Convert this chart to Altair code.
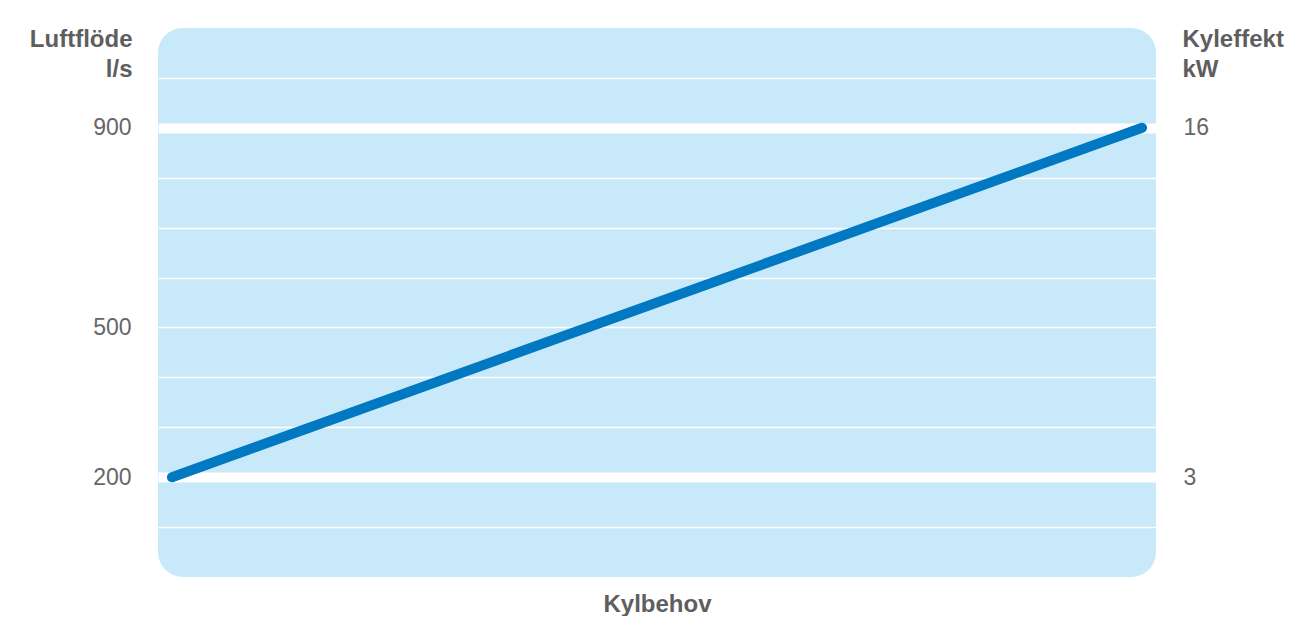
import altair as alt
import pandas as pd

# Data
kylbehov = [1.4, 98.6]          # relative position along the "Kylbehov" axis (0-100)
luftflode = [200, 900]          # l/s
kyleffekt = [3, 16]             # kW
left_labels = [200, 500, 900]
right_labels = [3, 16]
grid_values = [100, 200, 300, 400, 500, 600, 700, 800, 900, 1000]
thick_grid = [200, 900]

df = pd.DataFrame({"kylbehov": kylbehov, "luftflode": luftflode, "kyleffekt": kyleffekt})

y_dom = [0, 1100]
slope = (kyleffekt[1] - kyleffekt[0]) / (luftflode[1] - luftflode[0])
kw_dom = [kyleffekt[0] + (y_dom[0] - luftflode[0]) * slope,
          kyleffekt[0] + (y_dom[1] - luftflode[0]) * slope]

GRAY = "#666666"
TGRAY = "#5e5e5e"
FONT = "Liberation Sans"
LFS = 23
TFS = 24

label_test = " || ".join(f"datum.value == {v}" for v in left_labels)
thick_test = " || ".join(f"datum.value == {v}" for v in thick_grid)

base = alt.Chart(df).encode(
    x=alt.X(
        "kylbehov:Q",
        scale=alt.Scale(domain=[0, 100], nice=False, zero=False),
        axis=alt.Axis(
            title="Kylbehov", labels=False, ticks=False, domain=False, grid=False,
            titleFontSize=TFS, titleFontWeight="bold", titleColor=TGRAY,
            titleY=34, titleBaseline="alphabetic",
        ),
    )
)

line = base.mark_line(color="#0079C2", strokeWidth=10, strokeCap="round").encode(
    y=alt.Y(
        "luftflode:Q",
        scale=alt.Scale(domain=y_dom, nice=False, zero=False),
        axis=alt.Axis(
            orient="left",
            values=grid_values,
            labelExpr=f"({label_test}) ? datum.label : ''",
            labelOverlap=False,
            labelFontSize=LFS, labelColor=GRAY, labelPadding=27,
            ticks=False, tickSize=0, domain=False,
            grid=True, gridColor="white",
            gridWidth={"condition": {"test": thick_test, "value": 10}, "value": 1.5},
            title=["Luftflöde", "l/s"],
            titleFontSize=TFS, titleFontWeight="bold", titleColor=TGRAY,
            titleAngle=0, titleAlign="right", titleBaseline="alphabetic",
            titleX=-26, titleY=18, titleLineHeight=30,
        ),
    )
)

right = base.mark_line(opacity=0).encode(
    y=alt.Y(
        "kyleffekt:Q",
        scale=alt.Scale(domain=kw_dom, nice=False, zero=False),
        axis=alt.Axis(
            orient="right",
            values=right_labels,
            labelFontSize=LFS, labelColor=GRAY, labelPadding=27,
            ticks=False, tickSize=0, domain=False, grid=False,
            title=["Kyleffekt", "kW"],
            titleFontSize=TFS, titleFontWeight="bold", titleColor=TGRAY,
            titleAngle=0, titleAlign="left", titleBaseline="alphabetic",
            titleX=26, titleY=18, titleLineHeight=30,
        ),
    )
)

chart = alt.layer(line, right).resolve_scale(y="independent").properties(
    width=998,
    height=549,
    autosize="none",
    padding={"left": 150, "top": 20, "right": 131, "bottom": 39},
).configure_view(
    fill="#C8E9F9", cornerRadius=25, strokeWidth=0,
).configure_axis(
    labelFont=FONT, titleFont=FONT,
)

chart.save("out.html", embed_options={"renderer": "svg", "actions": False})
